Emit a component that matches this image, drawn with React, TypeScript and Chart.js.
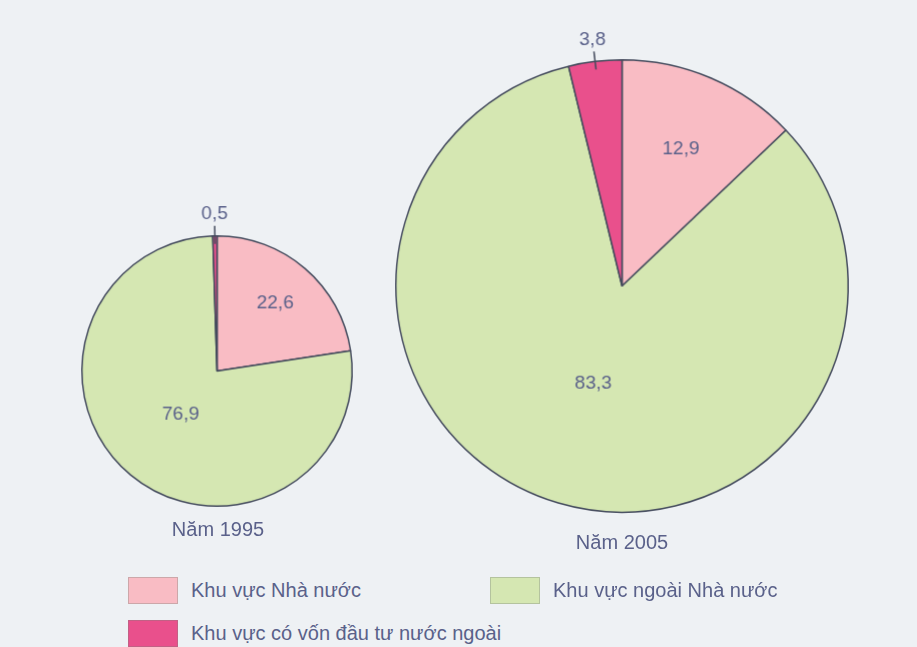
import React, { useEffect, useRef } from "react";
import { Chart, registerables } from "chart.js";

Chart.register(...registerables);

const CATEGORIES = ["Khu vực Nhà nước", "Khu vực ngoài Nhà nước", "Khu vực có vốn đầu tư nước ngoài"];
const VALUES_1995 = [22.6, 76.9, 0.5];
const VALUES_2005 = [12.9, 83.3, 3.8];
const YEARS = ["Năm 1995", "Năm 2005"];
// label placement per slice: number = fraction of radius (inside), "out" = outside with tick
const LABEL_POS_1995: (number | "out")[] = [0.66, 0.42, "out"];
const LABEL_POS_2005: (number | "out")[] = [0.66, 0.45, "out"];

const COLORS = ["#f9bcc4", "#d5e7b2", "#e9508c"];
const BORDER = "#434a5c";
const TEXT = "#5a618a";
const BG = "#eef1f4";
const FONT = "'Liberation Sans', Arial, sans-serif";

const labelPlugin = {
  id: "sliceLabels",
  afterDatasetsDraw(chart: any, _args: any, opts: any) {
    const ctx = chart.ctx;
    const meta = chart.getDatasetMeta(0);
    const data = chart.data.datasets[0].data as number[];
    const pos = opts.pos as (number | "out")[];
    ctx.save();
    ctx.fillStyle = TEXT;
    ctx.font = `19px ${FONT}`;
    ctx.textAlign = "center";
    ctx.textBaseline = "middle";
    meta.data.forEach((arc: any, i: number) => {
      const { x, y, startAngle, endAngle, outerRadius } = arc.getProps(
        ["x", "y", "startAngle", "endAngle", "outerRadius"],
        true
      );
      const mid = (startAngle + endAngle) / 2;
      const txt = String(data[i]).replace(".", ",");
      const p = pos[i];
      if (p === "out") {
        const r1 = outerRadius - 8;
        const r2 = outerRadius + 10;
        ctx.strokeStyle = BORDER;
        ctx.lineWidth = 1.5;
        ctx.beginPath();
        ctx.moveTo(x + Math.cos(mid) * r1, y + Math.sin(mid) * r1);
        ctx.lineTo(x + Math.cos(mid) * r2, y + Math.sin(mid) * r2);
        ctx.stroke();
        const rt = outerRadius + 22;
        ctx.fillText(txt, x + Math.cos(mid) * rt, y + Math.sin(mid) * rt);
      } else {
        const rt = outerRadius * (p as number);
        ctx.fillText(txt, x + Math.cos(mid) * rt, y + Math.sin(mid) * rt);
      }
    });
    ctx.restore();
  },
};

function Pie({ values, pos, cx, cy, r }: { values: number[]; pos: (number | "out")[]; cx: number; cy: number; r: number }) {
  const ref = useRef<HTMLCanvasElement>(null);
  const bw = 1.5;
  const pad = 50;
  const size = 2 * r + bw + 2 * pad;
  useEffect(() => {
    const chart = new Chart(ref.current!, {
      type: "pie",
      data: {
        labels: CATEGORIES,
        datasets: [
          {
            data: values,
            backgroundColor: COLORS,
            borderColor: BORDER,
            borderWidth: bw,
            borderAlign: "center",
          },
        ],
      },
      options: {
        animation: false,
        responsive: false,
        maintainAspectRatio: false,
        layout: { padding: pad },
        plugins: {
          legend: { display: false },
          tooltip: { enabled: false },
          sliceLabels: { pos },
        } as any,
      },
      plugins: [labelPlugin],
    });
    return () => chart.destroy();
  }, []);
  return (
    <canvas
      ref={ref}
      width={size}
      height={size}
      style={{ position: "absolute", left: cx - size / 2, top: cy - size / 2, width: size, height: size }}
    />
  );
}

export default function App() {
  const legendItem = (i: number, left: number, top: number) => (
    <div key={i} style={{ position: "absolute", left, top, display: "flex", alignItems: "center" }}>
      <div
        style={{
          width: 50,
          height: 27,
          background: COLORS[i],
          border: "1px solid rgba(120,130,120,0.35)",
          boxSizing: "border-box",
        }}
      />
      <span style={{ marginLeft: 13, fontSize: 20, color: TEXT, fontFamily: FONT }}>{CATEGORIES[i]}</span>
    </div>
  );
  return (
    <div
      style={{
        position: "absolute",
        left: 0,
        top: 0,
        width: 917,
        height: 647,
        background: BG,
        overflow: "hidden",
        fontFamily: FONT,
      }}
    >
      <Pie values={VALUES_1995} pos={LABEL_POS_1995} cx={217} cy={371} r={135} />
      <Pie values={VALUES_2005} pos={LABEL_POS_2005} cx={622} cy={286} r={226} />
      <div style={{ position: "absolute", left: 118, width: 200, top: 518, textAlign: "center", fontSize: 20, color: TEXT }}>
        {YEARS[0]}
      </div>
      <div style={{ position: "absolute", left: 522, width: 200, top: 531, textAlign: "center", fontSize: 20, color: TEXT }}>
        {YEARS[1]}
      </div>
      {legendItem(0, 128, 577)}
      {legendItem(1, 490, 577)}
      {legendItem(2, 128, 620)}
    </div>
  );
}
